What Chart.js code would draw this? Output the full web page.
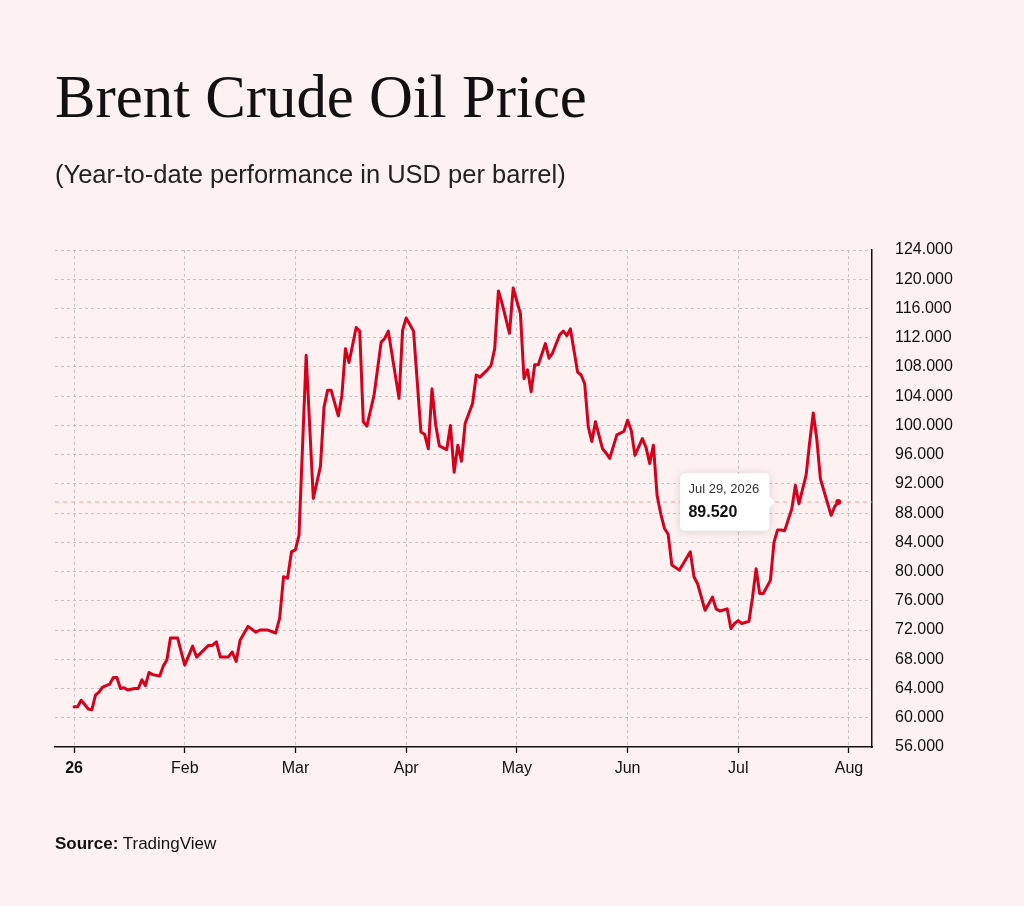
<!DOCTYPE html>
<html>
<head>
<meta charset="utf-8">
<title>Brent Crude Oil Price</title>
<script src="https://cdn.jsdelivr.net/npm/chart.js@4.4.1/dist/chart.umd.min.js"></script>
<style>
  html, body { margin: 0; padding: 0; background: #fdf1f1; }
  body { width: 1024px; height: 906px; position: relative; overflow: hidden;
         font-family: "Liberation Sans", Arial, Helvetica, sans-serif; }
  #title { position: absolute; left: 55px; top: 67px; margin: 0;
           font-family: "Liberation Serif", "Times New Roman", serif;
           font-size: 60.8px; line-height: 60px; font-weight: normal; color: #111; white-space: nowrap; }
  #subtitle { position: absolute; left: 55px; top: 162px; font-size: 25.5px; line-height: 25px; color: #222; white-space: nowrap; }
  #source { position: absolute; left: 55px; top: 836px; font-size: 17px; line-height: 16px; color: #111; white-space: nowrap; }
  #chart { position: absolute; left: 0; top: 0; }
</style>
</head>
<body>
<canvas id="chart" width="1024" height="906"></canvas>
<h1 id="title">Brent Crude Oil Price</h1>
<div id="subtitle">(Year-to-date performance in USD per barrel)</div>
<div id="source"><b>Source:</b> TradingView</div>

<script>
// chart data
const YEAR = 2026;
const monthNames = ['Jan', 'Feb', 'Mar', 'Apr', 'May', 'Jun', 'Jul', 'Aug', 'Sep', 'Oct', 'Nov', 'Dec'];
const xTickLabels = ['26', 'Feb', 'Mar', 'Apr', 'May', 'Jun', 'Jul', 'Aug'];
const yMin = 56, yMax = 124, yStep = 4;

const dates = [
  '01-01', '01-02', '01-03', '01-05', '01-06', '01-07', '01-08', '01-09', '01-11', '01-12',
  '01-13', '01-14', '01-15', '01-16', '01-18', '01-19', '01-20', '01-21', '01-22', '01-23',
  '01-25', '01-26', '01-27', '01-28', '01-30',
  '02-01', '02-03', '02-04', '02-07', '02-08', '02-09', '02-10', '02-11', '02-12', '02-13',
  '02-14', '02-15', '02-17', '02-19', '02-20', '02-22', '02-24', '02-25', '02-26', '02-27', '02-28',
  '03-01', '03-02', '03-04', '03-06', '03-08', '03-09', '03-10', '03-11', '03-13', '03-14',
  '03-15', '03-16', '03-18', '03-19', '03-20', '03-21', '03-23', '03-25', '03-26', '03-27',
  '03-30', '03-31',
  '04-01', '04-03', '04-05', '04-06', '04-07', '04-08', '04-09', '04-10', '04-12', '04-13',
  '04-14', '04-15', '04-16', '04-17', '04-19', '04-20', '04-21', '04-23', '04-24', '04-25',
  '04-26', '04-27', '04-29', '04-30',
  '05-02', '05-03', '05-04', '05-05', '05-06', '05-07', '05-09', '05-10', '05-11', '05-13',
  '05-14', '05-15', '05-16', '05-18', '05-19', '05-20', '05-21', '05-22', '05-23', '05-25',
  '05-26', '05-27', '05-29', '05-31',
  '06-01', '06-02', '06-03', '06-05', '06-06', '06-07', '06-08', '06-09', '06-10', '06-11',
  '06-12', '06-13', '06-15', '06-16', '06-18', '06-19', '06-20', '06-22', '06-24', '06-25',
  '06-26', '06-28', '06-29', '06-30',
  '07-01', '07-02', '07-04', '07-05', '07-06', '07-07', '07-08', '07-10', '07-11', '07-12',
  '07-13', '07-14', '07-16', '07-17', '07-18', '07-20', '07-21', '07-22', '07-23', '07-24',
  '07-27', '07-28', '07-29'
];

const prices = [
  61.5, 61.5, 62.4, 61.2, 61.1, 63.1, 63.5, 64.2, 64.6, 65.5,
  65.5, 64.0, 64.1, 63.8, 64.0, 64.0, 65.2, 64.4, 66.2, 65.9,
  65.7, 67.1, 67.9, 70.9, 70.9,
  67.2, 69.8, 68.3, 69.9, 69.9, 70.4, 68.3, 68.3, 68.3, 69.0,
  67.7, 70.6, 72.5, 71.7, 72.0, 72.0, 71.6, 73.6, 79.3, 79.1, 82.7,
  83.0, 85.0, 109.6, 90.0, 94.4, 102.5, 104.8, 104.8, 101.3, 104.1,
  110.5, 108.6, 113.4, 112.9, 100.5, 99.9, 104.1, 111.4, 111.9, 112.9,
  103.7, 113.0,
  114.7, 112.9, 99.1, 98.8, 96.8, 105.0, 100.1, 97.2, 96.7, 100.0,
  93.6, 97.3, 95.1, 100.3, 103.0, 106.9, 106.6, 107.6, 108.2, 110.5,
  118.4, 116.7, 112.6, 118.8,
  115.3, 106.4, 107.6, 104.6, 108.3, 108.3, 111.2, 109.2, 109.9, 112.4,
  112.9, 112.3, 113.2, 107.3, 106.9, 105.7, 99.8, 97.8, 100.5, 96.8,
  96.2, 95.5, 98.7, 99.2,
  100.7, 99.3, 95.9, 98.2, 97.0, 94.8, 97.3, 90.4, 87.9, 85.9,
  85.1, 80.9, 80.2, 81.0, 82.7, 79.3, 78.3, 74.7, 76.5, 74.9,
  74.6, 74.9, 72.2, 72.9,
  73.3, 72.9, 73.2, 76.5, 80.4, 77.0, 77.0, 78.8, 84.0, 85.7,
  85.7, 85.6, 88.6, 91.8, 89.3, 93.2, 97.7, 101.7, 98.1, 92.7,
  87.7, 88.9, 89.52
];

const FONT = '"Liberation Sans", Arial, Helvetica, sans-serif';
const RED = '#d4001c';
const GRID = '#c6c2c2';

// months are drawn with equal width, so x is "month index + fraction of month"
function monthPos(md) {
  const [m, d] = md.split('-').map(Number);
  const days = new Date(YEAR, m, 0).getDate();
  return (m - 1) + (d - 1) / days;
}

function longDate(md) {
  const [m, d] = md.split('-').map(Number);
  return monthNames[m - 1] + ' ' + d + ', ' + YEAR;
}

const X_MIN = -0.172, X_MAX = 7.208;
const lastIndex = prices.length - 1;

const points = dates.map((d, i) => ({ x: monthPos(d), y: prices[i] }));
const lastLine = [{ x: X_MIN, y: prices[lastIndex] }, { x: X_MAX, y: prices[lastIndex] }];

// soft shadow behind the tooltip box
const tooltipShadow = {
  id: 'tooltipShadow',
  beforeTooltipDraw(chart, args) {
    const tt = args.tooltip;
    if (!tt || !tt.opacity) return;
    const c = chart.ctx;
    c.save();
    c.shadowColor = 'rgba(0,0,0,0.16)';
    c.shadowBlur = 10;
    c.shadowOffsetY = 1;
    c.fillStyle = '#ffffff';
    c.beginPath();
    c.roundRect(tt.x, tt.y, tt.width, tt.height, 4);
    c.fill();
    c.restore();
  }
};

const ctx = document.getElementById('chart').getContext('2d');

const chart = new Chart(ctx, {
  type: 'line',
  data: {
    datasets: [
      {
        data: points,
        borderColor: RED,
        borderWidth: 3,
        borderJoinStyle: 'round',
        borderCapStyle: 'round',
        tension: 0,
        pointRadius: c => c.dataIndex === lastIndex ? 3 : 0,
        pointHoverRadius: 3,
        pointBorderWidth: 0,
        pointBackgroundColor: RED,
        order: 0
      },
      {
        // last price marker line
        data: lastLine,
        borderColor: '#f29a9a',
        borderWidth: 1,
        borderDash: [4, 4],
        pointRadius: 0,
        pointHoverRadius: 0,
        order: 1
      }
    ]
  },
  options: {
    responsive: false,
    animation: false,
    events: [],
    layout: { padding: { top: 250, left: 55, right: 0, bottom: 115 } },
    plugins: {
      legend: { display: false },
      tooltip: {
        backgroundColor: '#ffffff',
        titleColor: '#333333',
        bodyColor: '#111111',
        titleFont: { family: FONT, size: 13, weight: 'normal' },
        bodyFont: { family: FONT, size: 16, weight: 'bold' },
        titleMarginBottom: 6,
        padding: { top: 8, bottom: 8, left: 8, right: 10 },
        cornerRadius: 4,
        caretSize: 6,
        caretPadding: 63,
        xAlign: 'right',
        yAlign: 'center',
        displayColors: false,
        callbacks: {
          title: items => longDate(dates[items[0].dataIndex]),
          label: item => item.parsed.y.toFixed(3)
        }
      }
    },
    scales: {
      x: {
        type: 'linear',
        min: X_MIN,
        max: X_MAX,
        afterBuildTicks: s => { s.ticks = xTickLabels.map((_, i) => ({ value: i })); },
        afterFit: s => { s.height = 44; },
        grid: {
          color: GRID,
          lineWidth: 1,
          drawTicks: true,
          tickLength: 6,
          tickColor: '#111111',
          tickWidth: 1.3
        },
        border: { display: true, color: '#111111', width: 1.5, dash: [3, 3] },
        ticks: {
          padding: 6,
          color: '#111111',
          autoSkip: false,
          maxRotation: 0,
          font: c => ({ family: FONT, size: 16, weight: c.index === 0 ? 'bold' : 'normal' }),
          callback: (v, i) => xTickLabels[i]
        }
      },
      y: {
        position: 'right',
        min: yMin,
        max: yMax,
        afterFit: s => { s.width = 152; },
        grid: {
          color: c => (c.tick && c.tick.value === yMin) ? 'rgba(0,0,0,0)' : GRID,
          lineWidth: 1,
          drawTicks: false
        },
        border: { display: true, color: '#111111', width: 1.5, dash: [3, 3] },
        ticks: {
          stepSize: yStep,
          padding: 23,
          color: '#111111',
          font: { family: FONT, size: 16 },
          callback: v => v.toFixed(3)
        }
      }
    }
  },
  plugins: [tooltipShadow]
});

// keep the tooltip open on the latest close
const lastEl = chart.getDatasetMeta(0).data[lastIndex];
chart.tooltip.setActiveElements([{ datasetIndex: 0, index: lastIndex }], { x: lastEl.x, y: lastEl.y });
chart.update();
</script>
</body>
</html>
